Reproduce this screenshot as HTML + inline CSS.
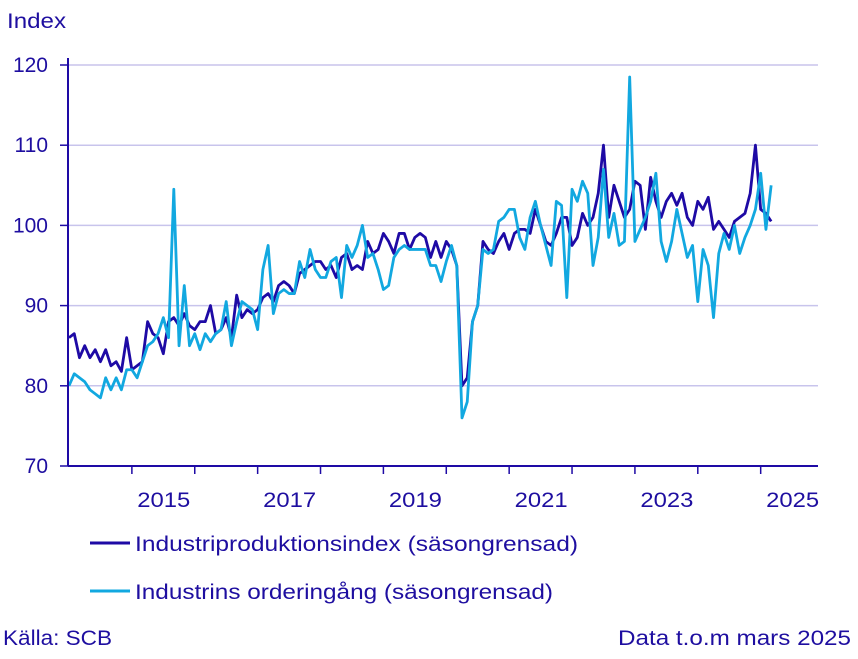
<!DOCTYPE html>
<html><head><meta charset="utf-8"><style>
body{margin:0;background:#fff;font-family:"Liberation Sans",sans-serif;}
svg text{font-family:"Liberation Sans",sans-serif;fill:#1e0ea0;}
</style></head><body>
<svg width="858" height="654">
<text x="7" y="28" font-size="21" textLength="59" lengthAdjust="spacingAndGlyphs">Index</text>
<g id="grid"></g><g id="series"></g><g id="axes"></g>
<line x1="90" y1="543" x2="130" y2="543" stroke="#1e0aa5" stroke-width="3"/>
<text x="135" y="551" font-size="21" textLength="443" lengthAdjust="spacingAndGlyphs">Industriproduktionsindex (säsongrensad)</text>
<line x1="90" y1="591" x2="130" y2="591" stroke="#12a8e0" stroke-width="3"/>
<text x="135" y="599" font-size="21" textLength="418" lengthAdjust="spacingAndGlyphs">Industrins orderingång (säsongrensad)</text>
<text x="3" y="645" font-size="21" textLength="109" lengthAdjust="spacingAndGlyphs">Källa: SCB</text>
<text x="618" y="645" font-size="21" textLength="233" lengthAdjust="spacingAndGlyphs">Data t.o.m mars 2025</text>
</svg>
<script>
const yTicks=[70,80,90,100,110,120];
const xLabels=["2015","2017","2019","2021","2023","2025"];
const production=[86,86.5,83.5,85,83.5,84.5,83,84.5,82.5,83,81.8,86,
82,82.5,83,88,86.5,86,84,88,88.5,87.5,89,87.5,
87,88,88,90,86.5,87,88.5,86,91.3,88.5,89.5,89,
89.5,91,91.5,90.5,92.5,93,92.5,91.5,94,94.5,95,95.5,
95.5,94.5,95,93.5,96,96.5,94.5,95,94.5,98,96.5,97,
99,98,96.5,99,99,97,98.5,99,98.5,96,98,96,
98,97,95,80,81,88,90,98,97,96.5,98,99,
97,99,99.5,99.5,99,102,100,98,97.5,99,101,101,
97.5,98.5,101.5,100,101,104,110,101,105,103,101,102,
105.5,105,99.5,106,103,101,103,104,102.5,104,101,100,
103,102,103.5,99.5,100.5,99.5,98.5,100.5,101,101.5,104,110,
102,101.5,100.5];
const orders=[80,81.5,81,80.5,79.5,79,78.5,81,79.5,81,79.5,82,
82,81,83,85,85.5,86.5,88.5,86,104.5,85,92.5,85,
86.5,84.5,86.5,85.5,86.5,87,90.5,85,88,90.5,90,89.5,
87,94.5,97.5,89,91.5,92,91.5,91.5,95.5,93.5,97,94.5,
93.5,93.5,95.5,96,91,97.5,96,97.5,100,96,96.5,94.5,
92,92.5,96,97,97.5,97,97,97,97,95,95,93,
95.5,97.5,95,76,78,88,90,97,96.5,97,100.5,101,
102,102,98.5,97,101,103,100,97.5,95,103,102.5,91,
104.5,103,105.5,104,95,98.5,107,98.5,101.5,97.5,98,118.5,
98,99.5,101,103,106.5,98,95.5,98,102,99,96,97.5,
90.5,97,95,88.5,96.5,99,97,100,96.5,98.5,100,102,
106.5,99.5,105];
const X0=69,STEP=5.24,X1=818;
const xs=i=>X0+i*STEP;
const ys=v=>466-(v-70)*8.02;
const NS="http://www.w3.org/2000/svg";
function mk(t,a,p){const e=document.createElementNS(NS,t);for(const k in a)e.setAttribute(k,a[k]);p.appendChild(e);return e;}
const grid=document.getElementById('grid'),axes=document.getElementById('axes'),ser=document.getElementById('series');
yTicks.forEach(v=>{
 if(v>70){const g=mk('line',{x1:68,x2:X1,y1:ys(v),y2:ys(v),stroke:'#c8c4ec','stroke-width':1.5},grid);
 
 }
 mk('line',{x1:60,x2:68,y1:ys(v),y2:ys(v),stroke:'#1e0aa5','stroke-width':1.5},axes);
 const t=mk('text',{x:48,y:ys(v)+7,'font-size':21,'text-anchor':'end'},axes);t.textContent=v;
 
 
});
mk('line',{x1:68,x2:68,y1:58,y2:466,stroke:'#1e0aa5','stroke-width':2},axes);
mk('line',{x1:68,x2:X1,y1:466,y2:466,stroke:'#1e0aa5','stroke-width':2},axes);
for(let y=1;y<=11;y++){mk('line',{x1:xs(y*12),x2:xs(y*12),y1:466,y2:474,stroke:'#1e0aa5','stroke-width':1.5},axes);}
xLabels.forEach(l=>{const yr=+l-2014;
 const t=mk('text',{x:xs(yr*12+6)-26,y:507,'font-size':21,textLength:53,lengthAdjust:'spacingAndGlyphs'},axes);t.textContent=l;
 
 });
function line(arr,col,name){
 const p=mk('polyline',{points:arr.map((v,i)=>xs(i)+','+ys(v)).join(' '),fill:'none',stroke:col,'stroke-width':2.8,'stroke-linejoin':'round'},ser);
 
 }
line(production,'#1e0aa5','production-line');
line(orders,'#12a8e0','orders-line');
</script>
</body></html>
